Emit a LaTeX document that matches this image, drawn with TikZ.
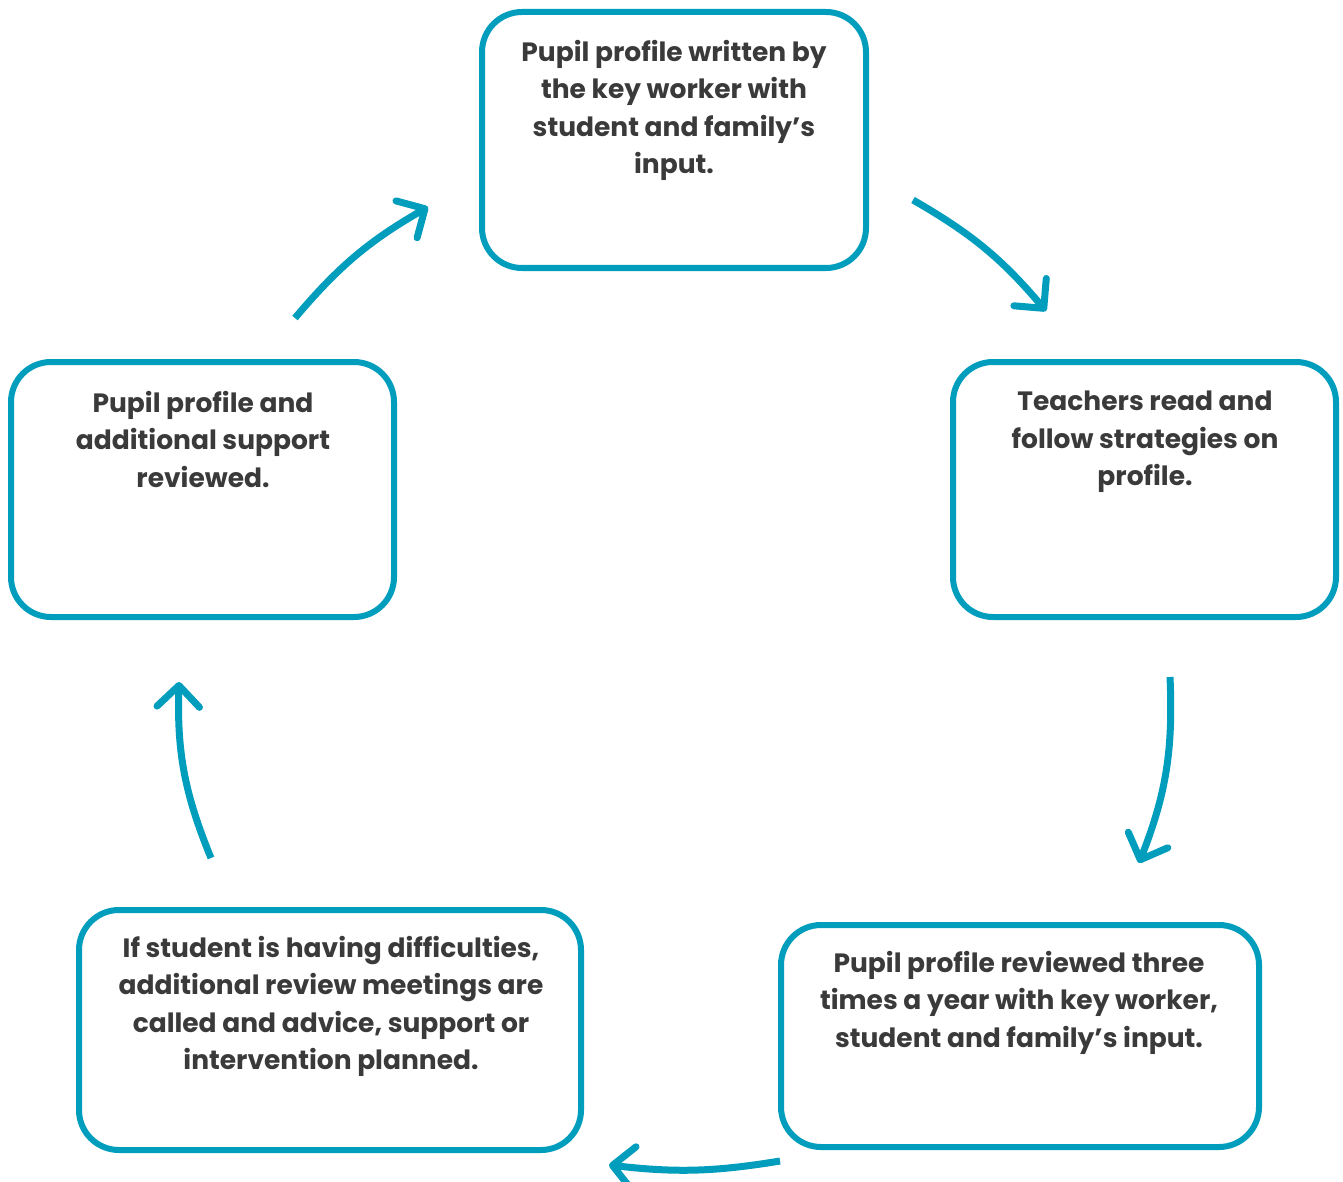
\documentclass[tikz,border=0pt]{standalone}
\usepackage{fontspec}
\setmainfont{Poppins}
\usetikzlibrary{arrows.meta}
\definecolor{teal}{RGB}{0,157,189}
\definecolor{txt}{RGB}{58,58,58}
\tikzset{
  x=1pt,y=1pt,
  box/.style={draw=teal, line width=6pt, rounded corners=40pt, inner sep=0pt},
  lbl/.style={anchor=north, align=center, text=txt, inner sep=0pt,
    font=\fontsize{26.5}{37.5}\selectfont\bfseries},
  flow/.style={draw=teal, line width=7pt,
    -{Straight Barb[angle=90:30pt, round, line width=7pt]}},
}
\begin{document}
\begin{tikzpicture}
\useasboundingbox (0,0) rectangle (1343,-1182);
% boxes
\node[box, minimum width=384pt, minimum height=256pt] (b1) at (674,-140) {};
\node[box, minimum width=383pt, minimum height=255pt] (b2) at (1144.5,-489.5) {};
\node[box, minimum width=478pt, minimum height=222pt] (b3) at (1020,-1036) {};
\node[box, minimum width=502pt, minimum height=240pt] (b4) at (330,-1030) {};
\node[box, minimum width=383pt, minimum height=255pt] (b5) at (202.5,-489.5) {};
% texts
\node[lbl] (t1) at (674,-40) {Pupil profile written by\\the key worker with\\student and family’s\\input.};
\node[lbl] (t2) at (1145,-391) {Teachers read and\\follow strategies on\\profile.};
\node[lbl] (t3) at (1019,-951) {Pupil profile reviewed three\\times a year with key worker,\\student and family’s input.};
\node[lbl] (t4) at (331,-936) {If student is having difficulties,\\additional review meetings are\\called and advice, support or\\intervention planned.};
\node[lbl] (t5) at (203,-391) {Pupil profile and\\additional support\\reviewed.};
% arrow ends
\coordinate (a1s) at (913,-200); \coordinate (a1e) at (1046,-311);
\coordinate (a2s) at (1170,-677); \coordinate (a2e) at (1139,-863);
\coordinate (a3s) at (780,-1161); \coordinate (a3e) at (609,-1165);
\coordinate (a4s) at (211,-858); \coordinate (a4e) at (179,-682);
\coordinate (a5s) at (295,-318); \coordinate (a5e) at (428,-207);
\draw[flow] (a1s) to[bend left=10] (a1e);
\draw[flow] (a2s) to[bend left=12] (a2e);
\draw[flow] (a3s) to[bend left=8] (a3e);
\draw[flow] (a4s) to[bend left=12] (a4e);
\draw[flow] (a5s) to[bend left=10] (a5e);
\end{tikzpicture}
\end{document}
